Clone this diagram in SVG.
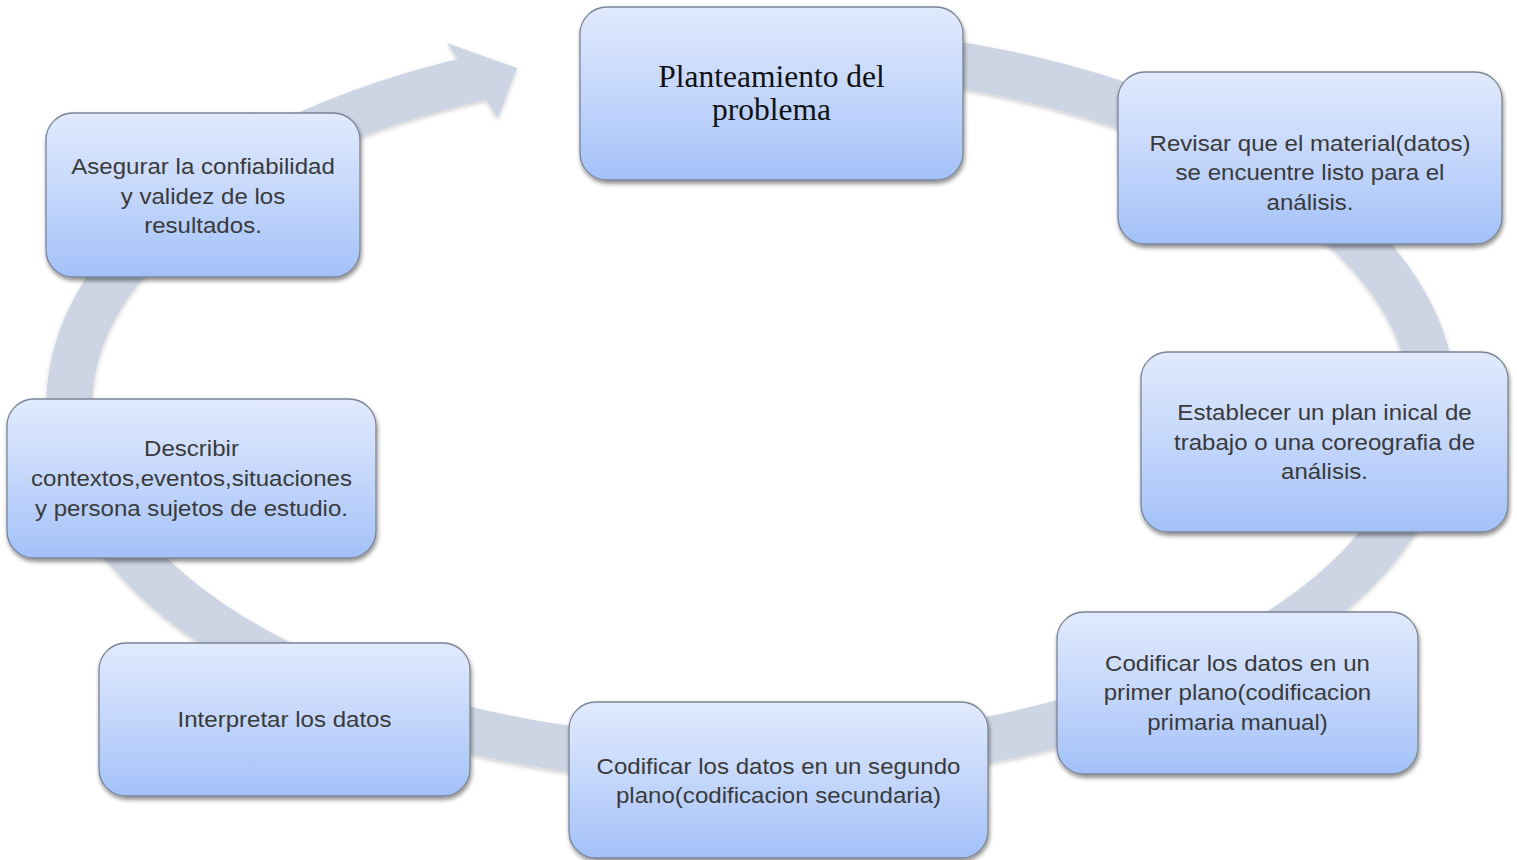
<svg xmlns="http://www.w3.org/2000/svg" width="1517" height="860" viewBox="0 0 1517 860">
  <defs>
    <linearGradient id="nodeFill" x1="0" y1="0" x2="0" y2="1">
      <stop offset="0" stop-color="#e1eafd"/>
      <stop offset="0.5" stop-color="#c4d7fb"/>
      <stop offset="1" stop-color="#a3c1f8"/>
    </linearGradient>
    <filter id="nodeShadow" x="-10%" y="-10%" width="120%" height="130%">
      <feDropShadow dx="1" dy="3" stdDeviation="2" flood-color="#000" flood-opacity="0.45"/>
    </filter>
    <filter id="ringShadow" x="-5%" y="-5%" width="110%" height="115%">
      <feDropShadow dx="0" dy="2" stdDeviation="2" flood-color="#000" flood-opacity="0.2"/>
    </filter>
  </defs>
  <style>
    .node { fill: url(#nodeFill); stroke: #7b8595; stroke-width: 1.3; filter: url(#nodeShadow); }
    .t { font-family: "Liberation Sans", Arial, sans-serif; font-size: 21.5px; fill: #3a3a3a; text-anchor: middle; }
    .title { font-family: "Liberation Serif", "Times New Roman", serif; font-size: 31.5px; fill: #111; text-anchor: middle; }
    .ring { fill: none; stroke: #cdd5e4; stroke-width: 46; }
    .head { fill: #cdd5e4; }
  </style>
  <rect width="1517" height="860" fill="#ffffff"/>

  <g id="connectors" filter="url(#ringShadow)">
    <path class="ring" d="M 482 77 A 682 357 0 1 0 700 49"/>
    <polygon class="head" points="447,43 517,68 498,118"/>
  </g>

  <g id="node-planteamiento">
    <rect class="node" x="580" y="7" width="383" height="173" rx="27"/>
    <text class="title" x="771.5" y="87">Planteamiento del</text>
    <text class="title" x="771.5" y="120">problema</text>
  </g>

  <g id="node-revisar">
    <rect class="node" x="1118" y="72" width="384" height="172" rx="27"/>
    <text class="t" transform="translate(1310,0) scale(1.12,1)"><tspan x="0" y="151">Revisar que el material(datos)</tspan><tspan x="0" y="180.5">se encuentre listo para el</tspan><tspan x="0" y="210">análisis.</tspan></text>
  </g>

  <g id="node-establecer">
    <rect class="node" x="1141" y="352" width="367" height="180" rx="27"/>
    <text class="t" transform="translate(1324.5,0) scale(1.12,1)"><tspan x="0" y="420">Establecer un plan inical de</tspan><tspan x="0" y="450">trabajo o una coreografia de</tspan><tspan x="0" y="479">análisis.</tspan></text>
  </g>

  <g id="node-codificar1">
    <rect class="node" x="1057" y="612" width="361" height="162" rx="27"/>
    <text class="t" transform="translate(1237.5,0) scale(1.12,1)"><tspan x="0" y="671">Codificar los datos en un</tspan><tspan x="0" y="700">primer plano(codificacion</tspan><tspan x="0" y="730">primaria manual)</tspan></text>
  </g>

  <g id="node-codificar2">
    <rect class="node" x="569" y="702" width="419" height="156" rx="27"/>
    <text class="t" transform="translate(778.5,0) scale(1.12,1)"><tspan x="0" y="774">Codificar los datos en un segundo</tspan><tspan x="0" y="803">plano(codificacion secundaria)</tspan></text>
  </g>

  <g id="node-interpretar">
    <rect class="node" x="99" y="643" width="371" height="153" rx="27"/>
    <text class="t" transform="translate(284.5,0) scale(1.12,1)"><tspan x="0" y="727">Interpretar los datos</tspan></text>
  </g>

  <g id="node-describir">
    <rect class="node" x="7" y="399" width="369" height="159" rx="27"/>
    <text class="t" transform="translate(191.5,0) scale(1.12,1)"><tspan x="0" y="456">Describir</tspan><tspan x="0" y="486">contextos,eventos,situaciones</tspan><tspan x="0" y="516">y persona sujetos de estudio.</tspan></text>
  </g>

  <g id="node-asegurar">
    <rect class="node" x="46" y="113" width="314" height="164" rx="27"/>
    <text class="t" transform="translate(203,0) scale(1.12,1)"><tspan x="0" y="174">Asegurar la confiabilidad</tspan><tspan x="0" y="204">y validez de los</tspan><tspan x="0" y="233">resultados.</tspan></text>
  </g>
</svg>
